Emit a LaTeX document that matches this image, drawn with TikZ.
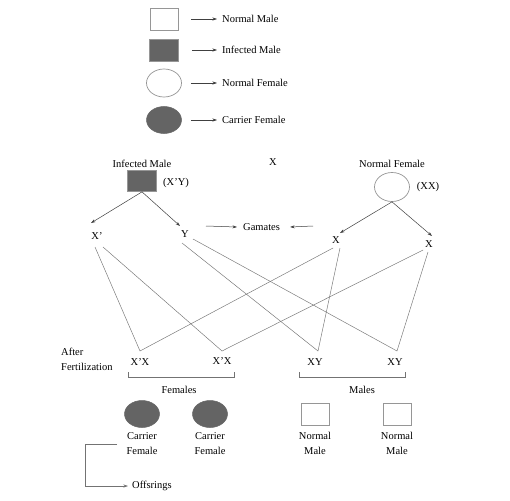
\documentclass[tikz,border=0pt]{standalone}
\usepackage{fontspec}
\setmainfont{Liberation Serif}
\usetikzlibrary{arrows.meta,shapes.geometric}
\definecolor{fillg}{RGB}{100,100,100}
\definecolor{edgeg}{RGB}{150,150,150}
\begin{document}
\begin{tikzpicture}[x=1pt,y=-1pt,
  txt/.style={font=\fontsize{10.5}{15}\selectfont, inner sep=0pt, align=center},
  ln/.style={draw=black!55, line width=0.45pt},
  arr/.style={draw=black!75, line width=0.5pt, -{Stealth[length=4.5pt,width=3pt]}},
  nmale/.style={rectangle, draw=edgeg, fill=white, minimum width=28pt, minimum height=22pt, inner sep=0pt, line width=0.7pt},
  imale/.style={rectangle, draw=edgeg, fill=fillg, minimum width=29pt, minimum height=22pt, inner sep=0pt, line width=0.7pt},
  nfem/.style={ellipse, draw=edgeg, fill=white, minimum width=35pt, minimum height=28pt, inner sep=0pt, line width=0.7pt},
  cfem/.style={ellipse, draw=fillg, fill=fillg, minimum width=35pt, minimum height=27pt, inner sep=0pt, line width=0.5pt}
]
\useasboundingbox[fill=white] (0,0) rectangle (510,500);

% ---------- legend ----------
\node[nmale] (lsq1) at (164,19) {};
\node[imale] (lsq2) at (164,50) {};
\node[nfem]  (lel1) at (164,83) {};
\node[cfem]  (lel2) at (164,120) {};
\node[txt, anchor=west] (lt1) at (222,19) {Normal Male};
\node[txt, anchor=west] (lt2) at (222,50) {Infected Male};
\node[txt, anchor=west] (lt3) at (222,83) {Normal Female};
\node[txt, anchor=west] (lt4) at (222,120) {Carrier Female};
\draw[arr] ([xshift=13pt]lsq1.east) -- ([xshift=-5pt]lt1.west);
\draw[arr] ([xshift=13pt]lsq2.east) -- ([xshift=-5pt]lt2.west);
\draw[arr] ([xshift=9pt]lel1.east) -- ([xshift=-5pt]lt3.west);
\draw[arr] ([xshift=9pt]lel2.east) -- ([xshift=-5pt]lt4.west);

% ---------- parents ----------
\node[txt] (imlab) at (142,164) {Infected Male};
\node[imale, minimum height=21pt] (im) at (142,181) {};
\node[txt] (imgen) at (176,183) {(X'Y)};
\node[txt] (cross) at (273,162) {X};
\node[txt] (nflab) at (392,164) {Normal Female};
\node[nfem, minimum height=29pt] (nf) at (392,187) {};
\node[txt] (nfgen) at (428,187) {(XX)};

% ---------- gametes ----------
\node[txt] (gXp) at (97,236) {X'};
\node[txt] (gY)  at (185,234) {Y};
\node[txt] (gXl) at (336,240) {X};
\node[txt] (gXr) at (429,244) {X};
\node[txt, anchor=west] (gam) at (243,227) {Gamates};

\coordinate (tXp) at (91,223);
\coordinate (tY)  at (180,226);
\coordinate (tXl) at (340,233);
\coordinate (tXr) at (432,236);
\draw[arr] (im.south) -- (tXp);
\draw[arr] (im.south) -- (tY);
\draw[arr] (nf.south) -- (tXl);
\draw[arr] (nf.south) -- (tXr);

\coordinate (ga1) at (206,226);
\coordinate (ga2) at (313,226);
\draw[arr] (ga1) -- ([xshift=-6pt]gam.west);
\draw[arr] (ga2) -- ([xshift=10pt]gam.east);

% ---------- crossing lines ----------
\coordinate (sXp1) at (95,247);
\coordinate (sXp2) at (103,247);
\coordinate (sY1)  at (182,243);
\coordinate (sY2)  at (193,239);
\coordinate (sXl1) at (333,248);
\coordinate (sXl2) at (340,248);
\coordinate (sXr1) at (423,250);
\coordinate (sXr2) at (428,252);

\coordinate (v1) at (140,351);
\coordinate (v2) at (222,351);
\coordinate (v3) at (318,351);
\coordinate (v4) at (397,351);

\draw[ln] (sXp1) -- (v1) -- (sXl1);
\draw[ln] (sXp2) -- (v2) -- (sXr1);
\draw[ln] (sY1) -- (v3) -- (sXl2);
\draw[ln] (sY2) -- (v4) -- (sXr2);

% ---------- offspring ----------
\node[txt, align=left, anchor=west] (aft) at (61,359.5) {After\\Fertilization};
\node[txt] (o1) at (140,362) {X'X};
\node[txt] (o2) at (222,361) {X'X};
\node[txt] (o3) at (315,362) {XY};
\node[txt] (o4) at (395,362) {XY};

\coordinate (bf1) at (128,372);
\coordinate (bf2) at (234,372);
\coordinate (bm1) at (299,372);
\coordinate (bm2) at (405,372);
\draw[ln] (bf1) -- ++(0,5) -| (bf2);
\draw[ln] (bm1) -- ++(0,5) -| (bm2);
\node[txt] (fem) at (179,390) {Females};
\node[txt] (mal) at (362,390) {Males};

\node[cfem] (c1) at (142,414) {};
\node[cfem] (c2) at (210,414) {};
\node[nmale] (m1) at (315,414) {};
\node[nmale] (m2) at (397,414) {};
\node[txt, anchor=north] (c1t) at (142,432) {Carrier\\Female};
\node[txt, anchor=north] (c2t) at (210,432) {Carrier\\Female};
\node[txt, anchor=north] (m1t) at (315,432) {Normal\\Male};
\node[txt, anchor=north] (m2t) at (397,432) {Normal\\Male};

\node[txt, anchor=west] (offs) at (132,486) {Offsrings};
\coordinate (of1) at (117,444);
\draw[ln] (of1) -- (85,444) -- (85,486);
\draw[arr, draw=black!55] (85,486) -- ([xshift=-4pt]offs.west);
\end{tikzpicture}
\end{document}
